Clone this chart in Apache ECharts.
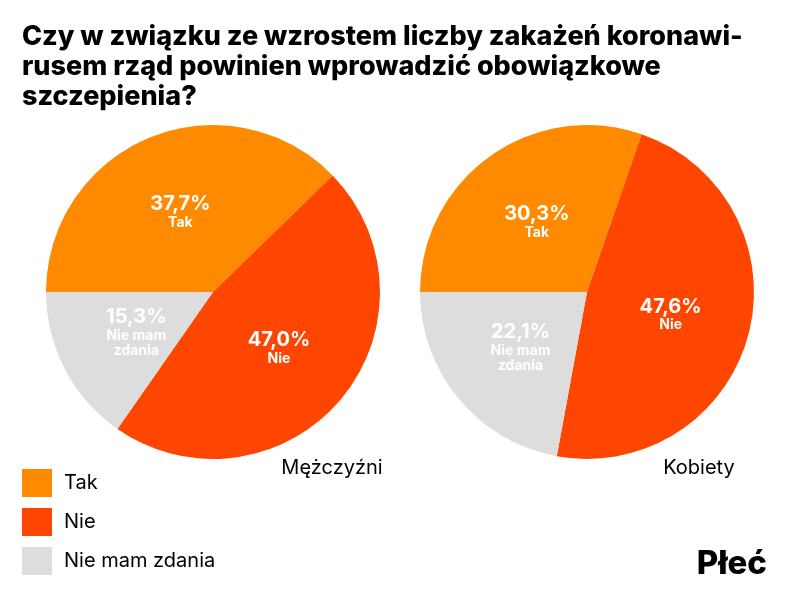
<!DOCTYPE html>
<html lang="pl">
<head>
<meta charset="UTF-8">
<title>Obowiązkowe szczepienia</title>
<script src="https://cdn.jsdelivr.net/npm/echarts@6/dist/echarts.min.js"></script>
<style>
    body { margin: 0; background: #fff; }
    #chart { width: 800px; height: 600px; }
</style>
</head>
<body>
<div id="chart"></div>
<script>
    // dane
    const categories = ['Tak', 'Nie', 'Nie mam zdania'];
    const labelNames = ['Tak', 'Nie', 'Nie mam\nzdania'];
    const groups = ['Mężczyźni', 'Kobiety'];
    const menValues = [37.7, 47.0, 15.3];
    const womenValues = [30.3, 47.6, 22.1];
    const colors = ['#FF8A00', '#FF4600', '#DDDDDD'];

    const font = 'Inter, "Noto Sans", sans-serif';

    function makeData(values) {
        return categories.map((name, i) => ({ name, value: values[i], itemStyle: { color: colors[i] } }));
    }

    function makeSeries(name, values, cx) {
        return {
            type: 'pie',
            name: name,
            center: [cx, 292],
            radius: 167,
            startAngle: 180,
            clockwise: true,
            silent: true,
            data: makeData(values),
            label: {
                show: true,
                position: 'inside',
                formatter: p => '{v|' + p.value.toFixed(1).replace('.', ',') + '%}\n{n|' + labelNames[p.dataIndex] + '}',
                rich: {
                    v: { color: '#fff', fontSize: 20, fontWeight: 'bold', fontFamily: font, lineHeight: 22 },
                    n: { color: '#fff', fontSize: 14, fontWeight: 'bold', fontFamily: font, lineHeight: 15 }
                }
            },
            labelLine: { show: false }
        };
    }

    const chart = echarts.init(document.getElementById('chart'));
    chart.setOption({
        animation: false,
        title: [
            {
                text: 'Czy w związku ze wzrostem liczby zakażeń koronawi-\nrusem rząd powinien wprowadzić obowiązkowe\nszczepienia?',
                left: 17, top: 17,
                textStyle: { fontFamily: font, fontSize: 27, fontWeight: 800, color: '#000', lineHeight: 30 }
            },
            {
                text: groups[0], left: 327, top: 453, textAlign: 'center',
                textStyle: { fontFamily: font, fontSize: 20, fontWeight: 'normal', color: '#000' }
            },
            {
                text: groups[1], left: 694, top: 453, textAlign: 'center',
                textStyle: { fontFamily: font, fontSize: 20, fontWeight: 'normal', color: '#000' }
            },
            {
                text: 'Płeć', right: 28, top: 543,
                textStyle: { fontFamily: font, fontSize: 33, fontWeight: 800, color: '#000' }
            }
        ],
        legend: {
            orient: 'vertical',
            left: 17, top: 464,
            icon: 'rect',
            itemWidth: 30, itemHeight: 28, itemGap: 11,
            data: categories,
            selectedMode: false,
            textStyle: { fontFamily: font, fontSize: 20, color: '#000', padding: [0, 0, 0, 7] }
        },
        series: [
            makeSeries(groups[0], menValues, 213),
            makeSeries(groups[1], womenValues, 587)
        ]
    });
</script>
</body>
</html>
